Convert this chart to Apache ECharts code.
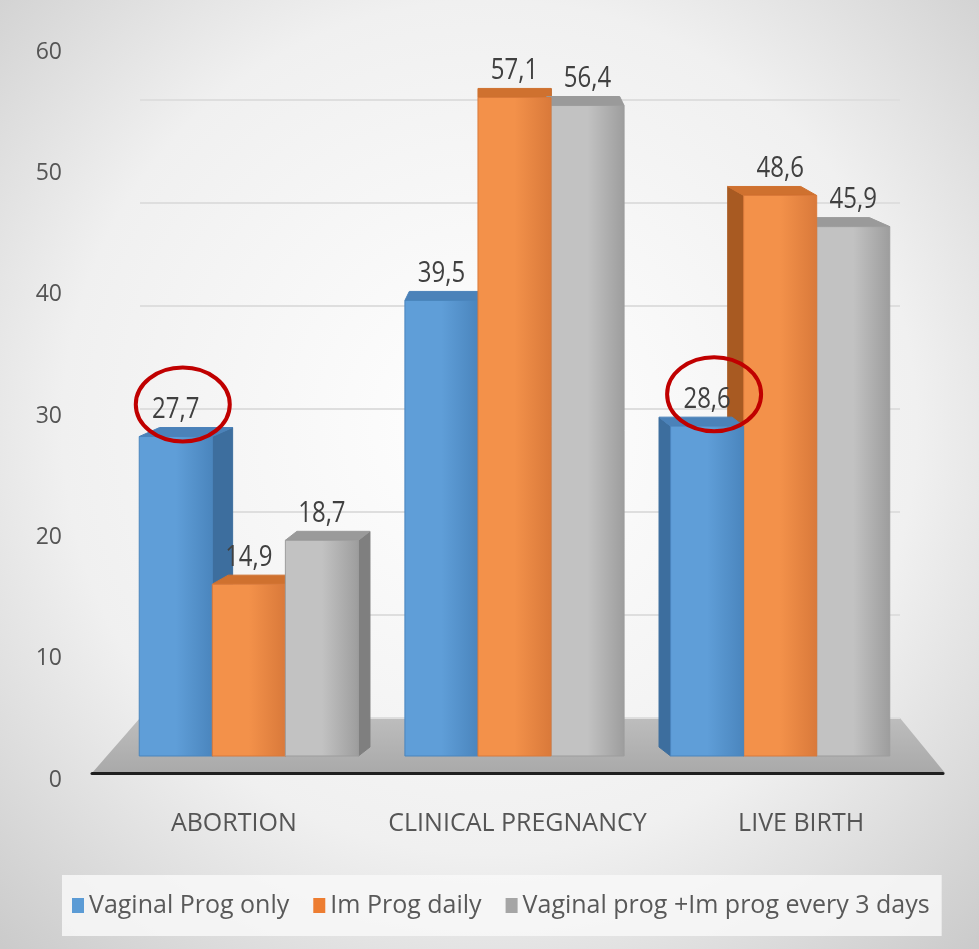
<!DOCTYPE html>
<html>
<head>
<meta charset="utf-8">
<script src="https://cdn.jsdelivr.net/npm/echarts@6/dist/echarts.min.js"></script>
<style>html,body{margin:0;padding:0;}#c{width:979px;height:949px;}</style>
</head>
<body>
<div id="c"></div>
<script>
var categories = ['ABORTION', 'CLINICAL PREGNANCY', 'LIVE BIRTH'];
var seriesNames = ['Vaginal Prog only', 'Im Prog daily', 'Vaginal prog +Im prog every 3 days'];
var vaginalOnly = [27.7, 39.5, 28.6];
var imDaily = [14.9, 57.1, 48.6];
var combined = [18.7, 56.4, 45.9];
var yTicks = [0, 10, 20, 30, 40, 50, 60];
var circled = [[0, 0], [0, 2]]; // [seriesIndex, categoryIndex]

var FONT = "'Liberation Sans Narrow', 'Arial Narrow', 'Open Sans', sans-serif";
var palette = [
  {legend: '#5b9bd5', front: '#5f9ed8', side: '#3d6e9e', top: '#4b82b9', stroke: '#4a85bd'},
  {legend: '#ed7d31', front: '#f3914a', side: '#a85a22', top: '#cf712f', stroke: '#d9793a'},
  {legend: '#a5a5a5', front: '#c2c2c2', side: '#7f7f7f', top: '#9a9a9a', stroke: '#9d9d9d'}
];
var BAR_RATIO = 0.275, PERSP = 0.06, DEPTH_Y = 9;

function fmt(v) { return String(v).replace('.', ','); }

function makeRender(si) {
  return function (params, api) {
    var ci = api.value(0), v = api.value(1);
    var base = api.coord([ci, 0]);
    var topP = api.coord([ci, v]);
    var band = api.size([1, 0])[0];
    var bw = band * BAR_RATIO;
    var cs = params.coordSys;
    var vx = cs.x + cs.width / 2;
    var cx = base[0] + (si - 1) * bw;
    var x0 = cx - bw / 2, x1 = cx + bw / 2, yT = topP[1], yB = base[1];
    var dx = (vx - cx) * PERSP, dy = -DEPTH_Y;
    var c = palette[si];
    var zFront = 100 - Math.abs(cx - vx) / 10;
    var children = [];
    var sidePts = dx >= 0
      ? [[x1, yT], [x1 + dx, yT + dy], [x1 + dx, yB + dy], [x1, yB]]
      : [[x0, yT], [x0 + dx, yT + dy], [x0 + dx, yB + dy], [x0, yB]];
    children.push({type: 'polygon', shape: {points: sidePts}, z2: 5,
      style: {fill: c.side, stroke: c.side, lineWidth: 1}});
    children.push({type: 'polygon', z2: 6,
      shape: {points: [[x0, yT], [x1, yT], [x1 + dx, yT + dy], [x0 + dx, yT + dy]]},
      style: {fill: c.top, stroke: c.top, lineWidth: 1}});
    children.push({type: 'rect', z2: zFront,
      shape: {x: x0, y: yT, width: bw, height: yB - yT},
      style: {fill: new echarts.graphic.LinearGradient(0, 0, 1, 0, [
        {offset: 0, color: c.front}, {offset: 0.5, color: c.front}, {offset: 1, color: c.stroke}]),
        stroke: c.stroke, lineWidth: 1}});
    children.push({type: 'text', z2: 150, x: cx, y: yT - 27, scaleX: 0.8,
      style: {x: 0, y: 0, text: fmt(v), textAlign: 'center', textVerticalAlign: 'middle',
        fill: '#404040', font: '30px ' + FONT}});
    for (var k = 0; k < circled.length; k++) {
      if (circled[k][0] === si && circled[k][1] === ci) {
        children.push({type: 'ellipse', z2: 200,
          shape: {cx: cx + 7, cy: yT - 32, rx: 47, ry: 37},
          style: {fill: 'none', stroke: '#c00000', lineWidth: 4}});
      }
    }
    return {type: 'group', children: children};
  };
}

var allValues = [vaginalOnly, imDaily, combined];
var series = allValues.map(function (vals, si) {
  return {
    type: 'custom', name: seriesNames[si],
    xAxisIndex: 0, yAxisIndex: 0,
    itemStyle: {color: palette[si].legend},
    renderItem: makeRender(si),
    encode: {x: 0, y: 1},
    data: vals.map(function (v, ci) { return [ci, v]; })
  };
});

var chart = echarts.init(document.getElementById('c'));
chart.setOption({
  backgroundColor: new echarts.graphic.RadialGradient(0.5, 0.45, 0.75, [
    {offset: 0, color: '#ffffff'}, {offset: 0.6, color: '#f0f0f0'}, {offset: 1, color: '#cbcbcb'}]),
  animation: false,
  grid: [
    {left: 116, right: 66, top: 64, bottom: 193},
    {left: 140, right: 79, top: 100, bottom: 231},
    {left: 92, right: 36, top: 52, bottom: 169}
  ],
  xAxis: [
    {gridIndex: 0, type: 'category', data: categories, show: false},
    {gridIndex: 1, type: 'value', show: false},
    {gridIndex: 2, type: 'category', data: categories, offset: -7,
      axisLine: {lineStyle: {color: '#1f1f1f', width: 3}}, axisTick: {show: false},
      axisLabel: {color: '#555555', fontSize: 25, fontFamily: FONT, margin: 38, interval: 0}}
  ],
  yAxis: [
    {gridIndex: 0, type: 'value', min: 0, max: 60, show: false},
    {gridIndex: 1, type: 'value', min: 0, max: 60, interval: 10,
      axisLine: {show: false}, axisTick: {show: false}, axisLabel: {show: false},
      splitLine: {lineStyle: {color: '#dedede', width: 2}}},
    {gridIndex: 2, type: 'value', min: yTicks[0], max: yTicks[yTicks.length - 1], interval: 10,
      axisLine: {show: false}, axisTick: {show: false}, splitLine: {show: false},
      axisLabel: {color: '#555555', fontSize: 23, fontFamily: FONT, margin: 30}}
  ],
  legend: {
    left: 62, top: 875, width: 900, itemGap: 24, itemWidth: 12, itemHeight: 15,
    padding: [18, 12, 18, 10],
    backgroundColor: 'rgba(248,248,248,0.85)',
    icon: 'rect',
    textStyle: {color: '#595959', fontSize: 25, fontFamily: FONT},
    data: seriesNames
  },
  graphic: [
    {type: 'polygon', z: -1, silent: true,
      shape: {points: [[92, 773], [945, 773], [900, 718], [140, 718]]},
      style: {fill: new echarts.graphic.LinearGradient(0, 0, 0, 1, [
        {offset: 0, color: '#bdbdbd'}, {offset: 1, color: '#a9a9a9'}])}}
  ],
  series: series
});
</script>
</body>
</html>
